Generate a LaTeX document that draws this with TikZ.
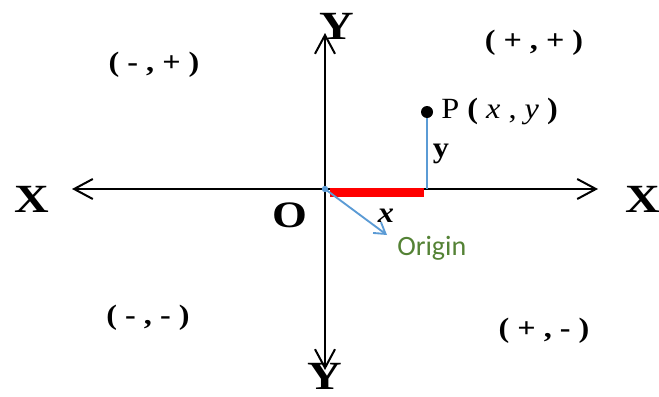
\documentclass[tikz,border=0pt]{standalone}
\usepackage{fontspec}
\setmainfont{Liberation Serif}
\newfontfamily\calibrifont{Carlito}
\usetikzlibrary{arrows.meta}

\definecolor{lineblue}{RGB}{91,155,213}
\definecolor{origingreen}{RGB}{84,130,53}

\begin{document}
\begin{tikzpicture}[
  x=0.75pt, y=-0.75pt,
  ax/.style={line width=1.5pt, {Straight Barb[length=14pt,width=15pt]}-{Straight Barb[length=14pt,width=15pt]}},
  axlbl/.style={font=\fontsize{30}{32}\selectfont\bfseries, inner sep=0pt, xscale=1.2, transform shape},
  quad/.style={font=\fontsize{21}{23}\selectfont\bfseries, inner sep=0pt, xscale=1.15, transform shape},
  lbl/.style={font=\fontsize{22}{24}\selectfont, inner sep=0pt, xscale=1.1, transform shape}
]
\useasboundingbox (0,0) rectangle (659,396);
% axes
\coordinate (O) at (325,189);
\coordinate (xl) at (72,189);
\coordinate (xr) at (598,189);
\coordinate (yt) at (325,33);
\coordinate (yb) at (325,370);
\draw[ax] (xl) -- (xr);
\draw[ax] (yb) -- (yt);
\node[axlbl] (ytop) at (337,26) {Y};
\node[axlbl] (ybot) at (325,376) {Y};
\node[axlbl] (xleft) at (32,199) {X};
\node[axlbl] (xright) at (643,199) {X};
\node[axlbl, font=\fontsize{28}{30}\selectfont\bfseries] (o) at (290,215) {O};
% quadrants
\node[quad] (q1) at (534,43) {( + , + )};
\node[quad] (q2) at (154,65) {( - , + )};
\node[quad] (q3) at (148,318) {( - , - )};
\node[quad] (q4) at (544,331) {( + , - )};
% point P
\coordinate (p) at (427,112);
\coordinate (px) at (427,189);
\draw[lineblue, line width=1.6pt] (p) -- (px);
\fill (p) circle[radius=4.5pt];
\node[lbl, anchor=west] (plbl) at (441,111) {P \textbf{(} \textit{x} , \textit{y} \textbf{)}};
\node[lbl, font=\fontsize{22}{24}\selectfont\bfseries] (ylbl) at (441,154) {y};
\draw[red, line width=7pt] (330,192.5) -- (424,192.5);
% origin
\coordinate (otip) at (387,235);
\draw[lineblue, line width=1.4pt, -{Straight Barb[length=8pt,width=10pt]}] (O) -- (otip);
\fill[lineblue] (O) circle[radius=2.4pt];
\node[lbl, font=\fontsize{22}{24}\selectfont\bfseries\itshape] (xlbl) at (386,216) {x};
\node[font=\fontsize{21}{23}\selectfont\calibrifont, text=origingreen, inner sep=0pt, anchor=west] (orig) at (397,248) {Origin};
\end{tikzpicture}
\end{document}
